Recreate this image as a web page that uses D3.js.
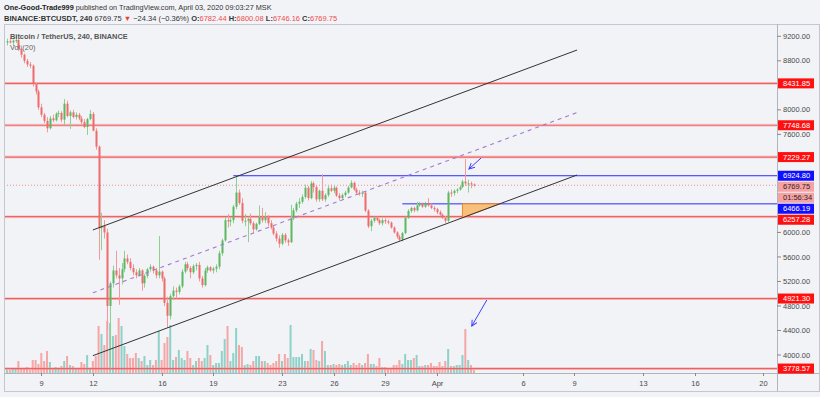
<!DOCTYPE html>
<html>
<head>
<meta charset="utf-8">
<script src="https://cdn.jsdelivr.net/npm/d3@7"></script>
<style>
  body { margin: 0; background: #f2f3f7; }
  svg { display: block; font-family: "Liberation Sans", Arial, sans-serif; }
</style>
</head>
<body>
<svg id="chart"></svg>
<script>
// BINANCE:BTCUSDT 4h candles, first bar opens 2020-03-07 00:00 UTC
const firstBar = Date.UTC(2020, 2, 7, 0);
const barMs = 4 * 3600 * 1000;

// [open, high, low, close], six bars per day
const candles = [
  // Mar 7
  [9100, 9160, 9050, 9120], [9120, 9180, 9080, 9100], [9100, 9150, 9040, 9130],
  [9130, 9217, 9090, 9140], [9140, 9160, 8960, 9000], [9000, 9050, 8850, 8900],
  // Mar 8
  [8900, 8920, 8760, 8800], [8800, 8830, 8700, 8740], [8740, 8780, 8680, 8720],
  [8720, 8740, 8380, 8420], [8420, 8450, 8250, 8300], [8300, 8330, 8000, 8040],
  // Mar 9
  [8040, 8100, 7880, 7920], [7920, 7950, 7780, 7820], [7820, 7880, 7632, 7700],
  [7700, 7900, 7680, 7860], [7860, 7920, 7800, 7830], [7830, 7960, 7810, 7935],
  // Mar 10
  [7935, 7990, 7880, 7950], [7950, 7980, 7800, 7840], [7840, 8177, 7760, 8100],
  [8100, 8150, 7880, 7900], [7900, 7990, 7690, 7960], [7960, 8000, 7860, 7883],
  // Mar 11
  [7883, 7960, 7840, 7920], [7920, 7950, 7830, 7860], [7860, 7900, 7760, 7800],
  [7800, 7850, 7700, 7720], [7720, 7870, 7590, 7850], [7850, 8000, 7830, 7934],
  // Mar 12
  [7934, 7966, 7650, 7660], [7660, 7700, 7350, 7400], [7400, 7420, 5555, 6070],
  [6070, 6320, 5710, 6110], [6110, 6200, 5900, 6000], [6000, 6060, 4410, 4800],
  // Mar 13
  [4800, 5200, 3782, 5170], [5170, 5460, 5100, 5380], [5380, 5700, 5250, 5300],
  [5300, 5420, 4820, 5250], [5250, 5500, 5150, 5400], [5400, 5700, 5350, 5575],
  // Mar 14
  [5575, 5640, 5480, 5520], [5520, 5580, 5380, 5420], [5420, 5480, 5300, 5350],
  [5350, 5400, 5250, 5300], [5300, 5420, 5280, 5380], [5380, 5400, 5050, 5170],
  // Mar 15
  [5170, 5320, 5100, 5290], [5290, 5420, 5250, 5400], [5400, 5480, 5360, 5440],
  [5440, 5460, 5330, 5380], [5380, 5420, 5250, 5300], [5300, 5940, 5250, 5360],
  // Mar 16
  [5360, 5380, 5200, 5250], [5250, 5280, 4800, 4850], [4850, 4950, 4442, 4640],
  [4640, 5000, 4580, 4960], [4960, 5120, 4900, 5050], [5050, 5100, 4920, 5030],
  // Mar 17
  [5030, 5150, 4990, 5120], [5120, 5400, 5090, 5360], [5360, 5520, 5330, 5480],
  [5480, 5520, 5380, 5420], [5420, 5450, 5250, 5350], [5350, 5480, 5320, 5450],
  // Mar 18
  [5450, 5500, 5380, 5470], [5470, 5520, 5200, 5250], [5250, 5290, 5100, 5140],
  [5140, 5420, 5120, 5380], [5380, 5460, 5340, 5430], [5430, 5450, 5360, 5380],
  // Mar 19
  [5380, 5440, 5330, 5410], [5410, 5480, 5350, 5440], [5440, 5700, 5400, 5660],
  [5660, 5900, 5620, 5870], [5870, 6250, 5850, 6200], [6200, 6300, 6080, 6180],
  // Mar 20
  [6180, 6250, 6100, 6200], [6200, 6450, 6150, 6420], [6420, 6924.8, 6380, 6650],
  [6650, 6700, 6450, 6480], [6480, 6560, 6150, 6190], [6190, 6300, 6100, 6191],
  // Mar 21
  [6191, 6260, 5840, 6220], [6220, 6310, 6120, 6150], [6150, 6180, 5980, 6050],
  [6050, 6160, 6030, 6140], [6140, 6440, 6120, 6250], [6250, 6400, 6160, 6198],
  // Mar 22
  [6198, 6330, 6150, 6250], [6250, 6280, 6100, 6150], [6150, 6200, 6050, 6080],
  [6080, 6110, 5950, 5980], [5980, 6020, 5850, 5900], [5900, 5950, 5750, 5816],
  // Mar 23
  [5816, 5990, 5790, 5960], [5960, 5990, 5830, 5870], [5870, 5900, 5780, 5840],
  [5840, 6450, 5830, 6230], [6230, 6400, 6200, 6360], [6360, 6500, 6330, 6469],
  // Mar 24
  [6469, 6560, 6400, 6500], [6500, 6620, 6470, 6580], [6580, 6780, 6550, 6730],
  [6730, 6760, 6520, 6560], [6560, 6840, 6540, 6800], [6800, 6830, 6650, 6740],
  // Mar 25
  [6740, 6770, 6500, 6540], [6540, 6700, 6500, 6680], [6680, 6950, 6510, 6540],
  [6540, 6640, 6500, 6610], [6610, 6760, 6580, 6720], [6720, 6780, 6660, 6681],
  // Mar 26
  [6681, 6760, 6640, 6730], [6730, 6750, 6580, 6600], [6600, 6640, 6520, 6560],
  [6560, 6640, 6540, 6610], [6610, 6680, 6580, 6650], [6650, 6760, 6630, 6734],
  // Mar 27
  [6734, 6850, 6720, 6810], [6810, 6830, 6680, 6700], [6700, 6730, 6620, 6650],
  [6650, 6690, 6600, 6630], [6630, 6680, 6580, 6650], [6650, 6670, 6330, 6356],
  // Mar 28
  [6356, 6380, 6070, 6100], [6100, 6220, 6020, 6190], [6190, 6260, 6160, 6240],
  [6240, 6260, 6180, 6200], [6200, 6220, 6120, 6150], [6150, 6230, 6110, 6200],
  // Mar 29
  [6200, 6230, 6140, 6180], [6180, 6210, 6130, 6160], [6160, 6180, 6060, 6080],
  [6080, 6100, 5980, 6000], [6000, 6020, 5900, 5930], [5930, 5960, 5850, 5881],
  // Mar 30
  [5881, 6010, 5850, 5990], [5990, 6260, 5970, 6240], [6240, 6380, 6220, 6350],
  [6350, 6420, 6320, 6400], [6400, 6420, 6330, 6360], [6360, 6500, 6340, 6440],
  // Mar 31
  [6440, 6500, 6420, 6470], [6470, 6490, 6400, 6420], [6420, 6500, 6400, 6480],
  [6480, 6560, 6420, 6440], [6440, 6470, 6380, 6400], [6400, 6430, 6340, 6380],
  // Apr 1
  [6380, 6400, 6300, 6330], [6330, 6360, 6270, 6290], [6290, 6310, 6220, 6240],
  [6240, 6270, 6150, 6190], [6190, 6680, 6170, 6650], [6650, 6700, 6580, 6642],
  // Apr 2
  [6642, 6700, 6600, 6680], [6680, 6720, 6640, 6700], [6700, 6760, 6680, 6740],
  [6740, 6860, 6720, 6830], [6830, 7198, 6760, 6800], [6800, 6860, 6650, 6800],
  // Apr 3
  [6800, 6830, 6720, 6794.09], [6782.44, 6800.08, 6746.16, 6769.75]
];

// volume per bar, BTC
const volumes = [
  3000, 3000, 4000, 4000, 12000, 4000,
  5000, 6000, 3000, 13000, 13000, 9000,
  20000, 12000, 22000, 11000, 5000, 6000,
  5000, 7000, 12000, 17000, 8000, 7000,
  4000, 4000, 11000, 9000, 18000, 5000,
  12000, 17000, 47000, 39000, 28000, 52000,
  50000, 37000, 38000, 55000, 47000, 27000,
  19000, 15000, 15000, 20000, 15000, 12000,
  17000, 8000, 13000, 8000, 13000, 42000,
  13000, 30000, 36000, 48000, 13000, 16000,
  23000, 15000, 13000, 22000, 15000, 8000,
  12000, 15000, 12000, 15000, 28000, 18000,
  8000, 10000, 10000, 22000, 34000, 47000,
  12000, 20000, 45000, 28000, 26000, 8000,
  9000, 8000, 12000, 17000, 17000, 12000,
  12000, 10000, 8000, 10000, 12000, 19000,
  12000, 19000, 15000, 48000, 16000, 16000,
  16000, 19000, 12000, 12000, 24000, 23000,
  13000, 12000, 32000, 22000, 8000, 8000,
  9000, 8000, 9000, 8000, 9000, 12000,
  8000, 10000, 8000, 10000, 8000, 10000,
  19000, 9000, 9000, 7000, 15000, 6000,
  6000, 5000, 5000, 8000, 8000, 13000,
  9000, 19000, 13000, 13000, 15000, 18000,
  7000, 7000, 8000, 8000, 10000, 7000,
  7000, 11000, 7000, 12000, 24000, 7000,
  7000, 8000, 8000, 18000, 44000, 13000,
  8000, 3000
];

const priceTicks = [4000, 4400, 4800, 5200, 5600, 6000, 6400, 6800, 7200, 7600, 8000, 8400, 8800, 9200];
const dateTicks = [
  [Date.UTC(2020, 2, 9), '9'], [Date.UTC(2020, 2, 12), '12'], [Date.UTC(2020, 2, 16), '16'],
  [Date.UTC(2020, 2, 19), '19'], [Date.UTC(2020, 2, 23), '23'], [Date.UTC(2020, 2, 26), '26'],
  [Date.UTC(2020, 2, 29), '29'], [Date.UTC(2020, 3, 1), 'Apr'], [Date.UTC(2020, 3, 6), '6'],
  [Date.UTC(2020, 3, 9), '9'], [Date.UTC(2020, 3, 13), '13'], [Date.UTC(2020, 3, 16), '16'],
  [Date.UTC(2020, 3, 20), '20']
];

// drawings
const redLevels = [8431.85, 7748.68, 7229.27, 6257.28, 4921.30, 3778.57];
const blueLevels = [6924.80, 6466.19];
const blueStarts = [Date.UTC(2020, 2, 20, 4), Date.UTC(2020, 2, 30, 0)];
const channelTimes = [Date.UTC(2020, 2, 12, 0), Date.UTC(2020, 3, 9, 4)];
const channelUpper = [6040, 8976];
const channelMiddle = [5015, 7957];
const channelLower = [3989, 6937];
const triangle = [
  [Date.UTC(2020, 3, 2, 12), 6466.19],
  [Date.UTC(2020, 3, 4, 16), 6466.19],
  [Date.UTC(2020, 3, 2, 12), 6240]
];
const arrows = [
  [[Date.UTC(2020, 3, 3, 14), 7214], [Date.UTC(2020, 3, 2, 21), 7035]],
  [[Date.UTC(2020, 3, 3, 22), 4897], [Date.UTC(2020, 3, 3, 1), 4473]]
];
const countdown = '01:56:34';

class CandleChart {

  constructor(_config) {
    this.config = {
      parentElement: _config.parentElement,
      containerWidth: _config.containerWidth || 820,
      containerHeight: _config.containerHeight || 397,
      plot: { left: 4, right: 777, top: 24, bottom: 373 }
    }
    this.initVis();
  }

  initVis() {
    let vis = this;
    let p = vis.config.plot;

    vis.svg = d3.select(vis.config.parentElement)
        .attr('width', vis.config.containerWidth)
        .attr('height', vis.config.containerHeight);

    vis.svg.append('rect')
        .attr('width', vis.config.containerWidth)
        .attr('height', vis.config.containerHeight)
        .attr('fill', '#f2f3f7');

    // date and price scales, calibrated on the axis ticks
    vis.x = d3.scaleUtc()
        .domain([Date.UTC(2020, 2, 9), Date.UTC(2020, 3, 20)])
        .range([41.3, 763.3]);
    vis.y = d3.scaleLinear()
        .domain([4000, 9200])
        .range([355, 36.3]);
    vis.yVol = d3.scaleLinear()
        .domain([0, 60000])
        .range([p.bottom, p.bottom - 60]);

    vis.svg.append('clipPath').attr('id', 'plot-clip')
      .append('rect')
        .attr('x', p.left).attr('y', p.top)
        .attr('width', p.right - p.left).attr('height', p.bottom - p.top);

    vis.chart = vis.svg.append('g').attr('clip-path', 'url(#plot-clip)');
  }

  render() {
    let vis = this;
    let p = vis.config.plot;
    let barX = (d, i) => vis.x(firstBar + i * barMs);
    let up = d => d[3] >= d[0];

    // volume
    vis.chart.selectAll('.vol')
        .data(volumes)
      .join('rect')
        .attr('class', 'vol')
        .attr('x', (d, i) => barX(d, i) - 1)
        .attr('width', 2)
        .attr('y', d => vis.yVol(d))
        .attr('height', d => p.bottom - vis.yVol(d))
        .attr('fill', (d, i) => up(candles[i]) ? '#8ed1c9' : '#f5a6a6');

    // horizontal red levels
    redLevels.forEach(v => {
      vis.chart.append('line')
          .attr('x1', p.left).attr('x2', p.right)
          .attr('y1', vis.y(v)).attr('y2', vis.y(v))
          .attr('stroke', '#f4a0a0').attr('stroke-width', 3).attr('opacity', 0.45);
      vis.chart.append('line')
          .attr('x1', p.left).attr('x2', p.right)
          .attr('y1', vis.y(v)).attr('y2', vis.y(v))
          .attr('stroke', '#f06262').attr('stroke-width', 1.2);
    });

    // current price line
    let last = candles[candles.length - 1];
    vis.chart.append('line')
        .attr('x1', p.left).attr('x2', p.right)
        .attr('y1', vis.y(last[3])).attr('y2', vis.y(last[3]))
        .attr('stroke', '#f08c8c').attr('stroke-dasharray', '1,2');

    // blue levels
    blueLevels.forEach((v, i) => {
      vis.chart.append('line')
          .attr('x1', vis.x(blueStarts[i])).attr('x2', p.right)
          .attr('y1', vis.y(v)).attr('y2', vis.y(v))
          .attr('stroke', '#2b2bff').attr('stroke-width', 1);
    });

    // candles
    let bars = vis.chart.selectAll('.bar')
        .data(candles)
      .join('g')
        .attr('class', 'bar');
    bars.append('line')
        .attr('x1', (d, i) => Math.round(barX(d, i)) + 0.5)
        .attr('x2', (d, i) => Math.round(barX(d, i)) + 0.5)
        .attr('y1', d => vis.y(d[1]))
        .attr('y2', d => vis.y(d[2]))
        .attr('stroke', d => up(d) ? '#8fcf91' : '#f29a9a');
    bars.append('rect')
        .attr('x', (d, i) => Math.round(barX(d, i)) - 0.5)
        .attr('width', 2)
        .attr('y', d => vis.y(Math.max(d[0], d[3])))
        .attr('height', d => Math.max(1, Math.abs(vis.y(d[0]) - vis.y(d[3]))))
        .attr('fill', d => up(d) ? '#5cb860' : '#ef6a6a');

    // triangle
    vis.chart.append('path')
        .attr('d', d3.line().x(d => vis.x(d[0])).y(d => vis.y(d[1]))(triangle) + 'Z')
        .attr('fill', '#f8c07a').attr('stroke', '#e8892c').attr('stroke-width', 1);

    // channel
    let chLine = vals => d3.line()
        .x(d => vis.x(d[0])).y(d => vis.y(d[1]))(channelTimes.map((t, i) => [t, vals[i]]));
    vis.chart.append('path').attr('d', chLine(channelUpper))
        .attr('stroke', '#333').attr('stroke-width', 1).attr('fill', 'none');
    vis.chart.append('path').attr('d', chLine(channelLower))
        .attr('stroke', '#333').attr('stroke-width', 1).attr('fill', 'none');
    vis.chart.append('path').attr('d', chLine(channelMiddle))
        .attr('stroke', '#a678d4').attr('stroke-width', 1.1)
        .attr('stroke-dasharray', '4,4').attr('fill', 'none');

    // arrows
    vis.svg.append('defs').append('marker')
        .attr('id', 'arrowhead')
        .attr('viewBox', '0 0 10 10').attr('refX', 9).attr('refY', 5)
        .attr('markerWidth', 7).attr('markerHeight', 7)
        .attr('orient', 'auto')
      .append('path')
        .attr('d', 'M1,1 L9,5 L1,9')
        .attr('fill', 'none').attr('stroke', '#3d3dff').attr('stroke-width', 1.4);
    arrows.forEach(a => {
      vis.chart.append('line')
          .attr('x1', vis.x(a[0][0])).attr('y1', vis.y(a[0][1]))
          .attr('x2', vis.x(a[1][0])).attr('y2', vis.y(a[1][1]))
          .attr('stroke', '#3d3dff').attr('stroke-width', 1)
          .attr('marker-end', 'url(#arrowhead)');
    });

    vis.renderAxes(last);
    vis.renderHeader(last);
  }

  renderAxes(last) {
    let vis = this;
    let p = vis.config.plot;
    let fmt = d3.format('.2f');

    // frame
    vis.svg.append('rect')
        .attr('x', p.left + 0.5).attr('y', p.top + 0.5)
        .attr('width', 815).attr('height', 367)
        .attr('fill', 'none').attr('stroke', '#c4c7cf');
    vis.svg.append('line')
        .attr('x1', p.right + 0.5).attr('x2', p.right + 0.5)
        .attr('y1', p.top).attr('y2', 391)
        .attr('stroke', '#b0b4bd');
    vis.svg.append('line')
        .attr('x1', p.left).attr('x2', 819)
        .attr('y1', p.bottom + 0.5).attr('y2', p.bottom + 0.5)
        .attr('stroke', '#b0b4bd');

    // stacked price labels on the axis
    let labels = [];
    redLevels.forEach(v => labels.push({ y: vis.y(v), text: fmt(v), bg: '#ff1010', fg: '#fff' }));
    blueLevels.forEach(v => labels.push({ y: vis.y(v), text: fmt(v), bg: '#1010ff', fg: '#fff' }));
    labels.push({ y: vis.y(last[3]), text: fmt(last[3]), bg: '#f3a3a3', fg: '#3a2020', timer: true });
    labels.sort((a, b) => a.y - b.y);
    let slot = 11;
    let bottomEdge = -Infinity;
    let placed = [];
    labels.forEach(l => {
      let top = Math.max(l.y - slot / 2, bottomEdge);
      l.cy = top + slot / 2;
      bottomEdge = top + slot;
      placed.push(l);
      if (l.timer) {
        placed.push({ cy: bottomEdge + slot / 2, text: countdown, bg: l.bg, fg: l.fg });
        bottomEdge += slot;
      }
    });

    // price ticks, hidden where a label sits on them
    let axis = vis.svg.append('g');
    priceTicks.forEach(v => {
      let ty = vis.y(v);
      if (placed.some(l => Math.abs(l.cy - ty) < 6)) return;
      axis.append('line')
          .attr('x1', p.right).attr('x2', p.right + 4)
          .attr('y1', ty).attr('y2', ty).attr('stroke', '#888');
      axis.append('text')
          .attr('x', p.right + 6).attr('y', ty).attr('dy', '0.35em')
          .attr('font-size', 7.5).attr('fill', '#4a4a4a')
          .text(fmt(v));
    });

    placed.forEach(l => {
      axis.append('rect')
          .attr('x', p.right + 1).attr('y', l.cy - 5)
          .attr('width', 36).attr('height', 10)
          .attr('fill', l.bg);
      axis.append('text')
          .attr('x', p.right + 6).attr('y', l.cy).attr('dy', '0.35em')
          .attr('font-size', 7.5).attr('fill', l.fg)
          .text(l.text);
    });

    // date ticks
    dateTicks.forEach(d => {
      let tx = Math.round(vis.x(d[0])) + 0.5;
      axis.append('line')
          .attr('x1', tx).attr('x2', tx)
          .attr('y1', p.bottom).attr('y2', p.bottom + 3).attr('stroke', '#888');
      axis.append('text')
          .attr('x', tx).attr('y', p.bottom + 10).attr('dy', '0.35em')
          .attr('text-anchor', 'middle')
          .attr('font-size', 7.5).attr('fill', '#4a4a4a')
          .text(d[1]);
    });
  }

  renderHeader(last) {
    let vis = this;
    let prev = candles[candles.length - 2][3];
    let chg = last[3] - prev;
    let fmt = d3.format('.2f');
    let minus = s => s.replace('-', '\u2212');

    let l1 = vis.svg.append('text').attr('x', 4).attr('y', 10).attr('font-size', 7.3);
    l1.append('tspan').attr('font-weight', 'bold').attr('fill', '#222').text('One-Good-Trade999');
    l1.append('tspan').attr('fill', '#333').text(' published on TradingView.com, April 03, 2020 09:03:27 MSK');

    let l2 = vis.svg.append('text').attr('x', 4).attr('y', 20.5).attr('font-size', 7.5).attr('fill', '#333');
    l2.append('tspan').attr('font-weight', 'bold').text('BINANCE:BTCUSDT, 240');
    l2.append('tspan').text(' ' + fmt(last[3]) + ' ');
    l2.append('tspan').attr('fill', '#ef3b3b').text('\u25BC');
    l2.append('tspan').text(' ' + minus(fmt(chg)) + ' (' + minus(d3.format('.2%')(chg / prev)) + ') ');
    [['O:', last[0]], ['H:', last[1]], ['L:', last[2]], ['C:', last[3]]].forEach((kv, i) => {
      l2.append('tspan').attr('font-weight', 'bold').text((i ? ' ' : '') + kv[0]);
      l2.append('tspan').attr('fill', '#ef4b4b').text(fmt(kv[1]));
    });

    vis.svg.append('text').attr('x', 10).attr('y', 39).attr('font-size', 7.4)
        .attr('font-weight', 'bold').attr('fill', '#555')
        .text('Bitcoin / TetherUS, 240, BINANCE');
    vis.svg.append('text').attr('x', 10).attr('y', 50).attr('font-size', 7.4)
        .attr('fill', '#666')
        .text('Vol (20)');
  }
}

let chart = new CandleChart({ parentElement: '#chart' });
chart.render();
</script>
</body>
</html>
